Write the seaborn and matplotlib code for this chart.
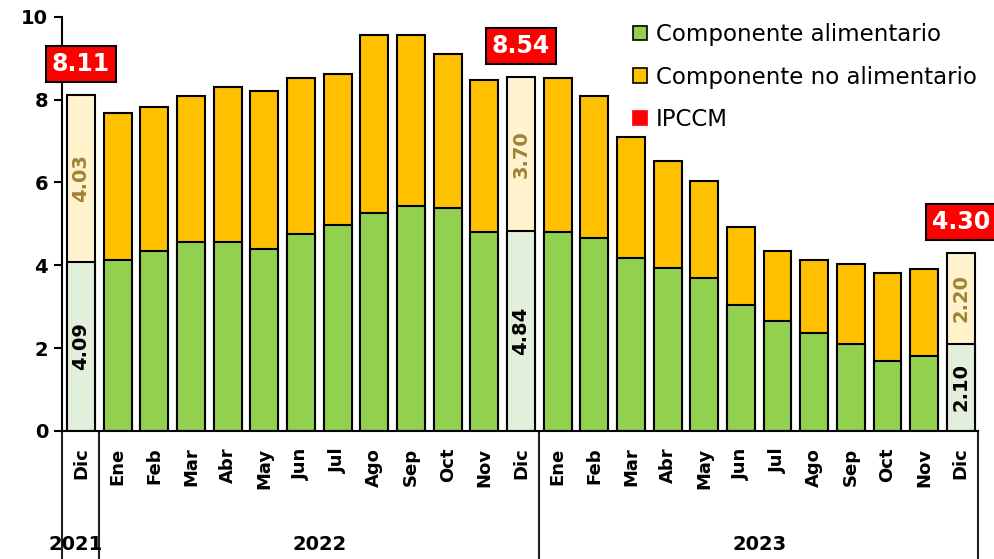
import matplotlib
matplotlib.use('Agg')
import matplotlib.pyplot as plt
import matplotlib.transforms as mtransforms
from matplotlib.patches import Patch
import pandas as pd
import seaborn as sns

# Data
meses = ['Dic',
         'Ene', 'Feb', 'Mar', 'Abr', 'May', 'Jun', 'Jul', 'Ago', 'Sep', 'Oct', 'Nov', 'Dic',
         'Ene', 'Feb', 'Mar', 'Abr', 'May', 'Jun', 'Jul', 'Ago', 'Sep', 'Oct', 'Nov', 'Dic']
anios = ['2021'] + ['2022'] * 12 + ['2023'] * 12
alimentario = [4.09,
               4.13, 4.35, 4.57, 4.57, 4.40, 4.76, 4.98, 5.27, 5.43, 5.39, 4.81, 4.84,
               4.81, 4.66, 4.18, 3.94, 3.70, 3.04, 2.66, 2.37, 2.10, 1.69, 1.81, 2.10]
no_alimentario = [4.03,
                  3.55, 3.48, 3.52, 3.74, 3.81, 3.77, 3.64, 4.30, 4.14, 3.72, 3.67, 3.70,
                  3.72, 3.43, 2.92, 2.58, 2.34, 1.89, 1.69, 1.76, 1.93, 2.13, 2.10, 2.20]
# IPCCM shown only for the December bars
ipccm_idx = [0, 12, 24]
ipccm_val = [8.11, 8.54, 4.30]
year_names = ['2021', '2022', '2023']

verde, naranja = '#92D050', '#FFC000'
verde_claro, crema = '#E2EFDA', '#FFF2CC'
rojo = '#FF0000'

df = pd.DataFrame({'mes': meses, 'anio': anios,
                   'alimentario': alimentario, 'no_alimentario': no_alimentario})
df['key'] = df['mes'] + ' ' + df['anio']
df['total'] = df['alimentario'] + df['no_alimentario']
keys = list(df['key'])

pal_top = {k: (crema if i in ipccm_idx else naranja) for i, k in enumerate(keys)}
pal_bot = {k: (verde_claro if i in ipccm_idx else verde) for i, k in enumerate(keys)}

sns.set_theme(style='ticks')
plt.rcParams['font.family'] = ['DejaVu Sans']
plt.rcParams['text.color'] = 'black'
plt.rcParams['xtick.color'] = 'black'
plt.rcParams['ytick.color'] = 'black'
plt.rcParams['axes.edgecolor'] = 'black'

fig = plt.figure(figsize=(9.95, 5.59), dpi=100)
ax = fig.add_axes([0.0623, 0.229, 0.9207, 0.741])

sns.barplot(data=df, x='key', y='total', hue='key', palette=pal_top, order=keys,
            legend=False, width=0.76, saturation=1, edgecolor='black', linewidth=1.5, ax=ax)
sns.barplot(data=df, x='key', y='alimentario', hue='key', palette=pal_bot, order=keys,
            legend=False, width=0.76, saturation=1, edgecolor='black', linewidth=1.5, ax=ax)

# values written inside the highlighted bars and the red IPCCM boxes
for i, v in zip(ipccm_idx, ipccm_val):
    a = df['alimentario'][i]
    n = df['no_alimentario'][i]
    ax.text(i, a / 2, f'{a:.2f}', rotation=90, ha='center', va='center',
            fontsize=14, fontweight='bold', color='black')
    ax.text(i, a + n / 2, f'{n:.2f}', rotation=90, ha='center', va='center',
            fontsize=14, fontweight='bold', color='#A08236')
    ax.text(i, v + 0.75, f'{v:.2f}', ha='center', va='center', fontsize=17,
            fontweight='bold', color='white', clip_on=False,
            bbox=dict(boxstyle='square,pad=0.25', fc=rojo, ec='black', lw=1.5))

ax.set_xlim(-0.52, 24.47)
ax.set_ylim(0, 10)
ax.set_yticks([0, 2, 4, 6, 8, 10])
ax.set_xticks(range(len(meses)))
ax.set_xticklabels(meses, rotation=90, fontsize=13, fontweight='bold')
for lab in ax.get_yticklabels():
    lab.set_fontweight('bold')
ax.tick_params(axis='y', labelsize=14, length=6, width=1.5, pad=4)
ax.tick_params(axis='x', length=0, pad=12)
ax.set_xlabel('')
ax.set_ylabel('')
sns.despine(ax=ax)
ax.spines['left'].set_linewidth(1.5)
ax.spines['bottom'].set_linewidth(1.5)

# year separators and year labels under the month labels
trans = mtransforms.blended_transform_factory(ax.transData, ax.transAxes)
for x in [-0.52, 0.5, 12.5, 24.47]:
    ax.plot([x, x], [0, -0.32], color='#222222', lw=1.5, transform=trans, clip_on=False)
for x, name in zip([-0.15, 6.5, 18.5], year_names):
    ax.text(x, -0.275, name, transform=trans, ha='center', va='center',
            fontsize=14, fontweight='bold')

handles = [Patch(fc=verde, ec='black', lw=1.2),
           Patch(fc=naranja, ec='black', lw=1.2),
           Patch(fc=rojo, ec='red', lw=1.2)]
fig.legend(handles, ['Componente alimentario', 'Componente no alimentario', 'IPCCM'],
           loc='upper left', bbox_to_anchor=(0.627, 0.975), frameon=False,
           fontsize=16.5, handlelength=0.6, handleheight=0.6, handletextpad=0.4,
           labelspacing=0.85, borderaxespad=0)

fig.savefig('out.png', dpi=100)
